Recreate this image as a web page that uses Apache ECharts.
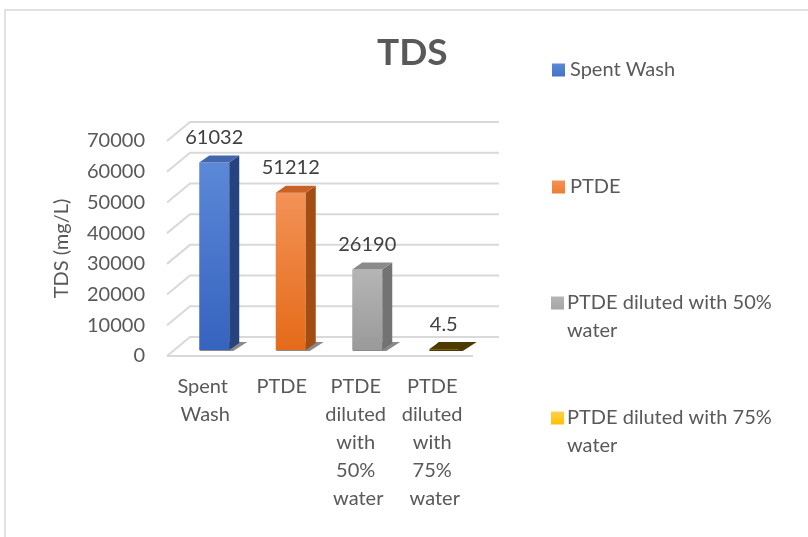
<!DOCTYPE html>
<html>
<head>
<meta charset="utf-8">
<style>
  html, body { margin: 0; padding: 0; background: #fff; }
  #chart { width: 808px; height: 537px; }
</style>
<script src="https://cdn.jsdelivr.net/npm/echarts@6/dist/echarts.min.js"></script>
</head>
<body>
<div id="chart"></div>
<script>
// data
var categories = ['Spent Wash', 'PTDE', 'PTDE diluted with 50% water', 'PTDE diluted with 75% water'];
var tdsValues = [61032, 51212, 26190, 4.5];
var yTicks = [0, 10000, 20000, 30000, 40000, 50000, 60000, 70000];

// colours per bar: front top, front bottom, side, top face, legend
var frontTop = ['#5c88d8', '#f39257', '#b5b5b5', '#ffd24d'];
var frontBottom = ['#3563be', '#e46b18', '#9a9a9a', '#f0b400'];
var sideCol = ['#24437f', '#a24d14', '#737373', '#3a2c00'];
var topCol = ['#4366ac', '#c96226', '#8a8a8a', '#4d3b00'];
var legendCol = ['#4472c4', '#ed7d31', '#a5a5a5', '#ffc000'];

// 3d look
var barW = 30, barDx = 9, barDy = -6, depX = 10, depY = -7;
var wallDx = 23, wallDy = -19;

var chart = echarts.init(document.getElementById('chart'));

function gridRender(params, api) {
    var cs = params.coordSys;
    var y = api.coord([0, api.value(1)])[1];
    var x = cs.x, w = cs.width;
    var lineStyle = {stroke: '#d9d9d9', lineWidth: 2, fill: null};
    var children = [{
        type: 'polyline',
        shape: {points: [[x, y], [x + wallDx, y + wallDy], [x + w + wallDx + 3, y + wallDy]]},
        style: lineStyle
    }];
    if (api.value(1) === 0) {
        children.push({
            type: 'line',
            shape: {x1: x, y1: y, x2: x + w, y2: y},
            style: lineStyle
        });
    }
    return {type: 'group', children: children};
}

function barRender(i) {
    return function (params, api) {
        var v = api.value(1);
        var p = api.coord([api.value(0), v]);
        var p0 = api.coord([api.value(0), 0]);
        var l = p[0] + barDx - barW / 2, r = l + barW;
        var t = p[1] + barDy, b = p0[1] + barDy;
        if (b - t < 0.5) t = b - 0.5;
        return {
            type: 'group',
            children: [
                {   // base shadow
                    type: 'polygon',
                    shape: {points: [[l, b + 1], [r + 4, b + 1], [r + depX + 8, b + depY - 1], [l + depX, b + depY - 1]]},
                    style: {fill: i === 3 ? '#4d3b00' : 'rgba(40,40,40,0.55)'}
                },
                {
                    type: 'rect',
                    shape: {x: l, y: t, width: barW, height: b - t},
                    style: {fill: new echarts.graphic.LinearGradient(0, 0, 0, 1, [
                        {offset: 0, color: frontTop[i]}, {offset: 1, color: frontBottom[i]}])}
                },
                {
                    type: 'polygon',
                    shape: {points: [[r, t], [r + depX, t + depY], [r + depX, b + depY], [r, b]]},
                    style: {fill: sideCol[i]}
                },
                {
                    type: 'polygon',
                    shape: {points: [[l, t], [l + depX, t + depY], [r + depX, t + depY], [r, t]]},
                    style: {fill: topCol[i]}
                },
                {
                    type: 'text',
                    style: {
                        text: String(v), x: l + barW / 2, y: t - 25,
                        align: 'center', verticalAlign: 'middle',
                        fill: '#404040', font: '20px Lato'
                    }
                }
            ]
        };
    };
}

var series = [{
    type: 'custom',
    name: 'grid',
    renderItem: gridRender,
    data: yTicks.map(function (v) { return [0, v]; }),
    silent: true,
    z: 1
}];
categories.forEach(function (name, i) {
    series.push({
        type: 'custom',
        name: name,
        renderItem: barRender(i),
        itemStyle: {color: new echarts.graphic.LinearGradient(0, 0, 0, 1, [
            {offset: 0, color: frontTop[i]}, {offset: 1, color: legendCol[i]}])},
        data: [[i, tdsValues[i]]],
        z: 3
    });
});

var iconCenter = [69, 186, 302, 417];
var legendText = {color: '#595959', fontSize: 20, fontFamily: 'Lato', lineHeight: 28};
var legends = categories.map(function (name, i) {
    if (i < 2) {
        return {
            data: [name],
            left: 547,
            top: iconCenter[i] - 18,
            icon: 'rect',
            itemWidth: 13,
            itemHeight: 13,
            selectedMode: false,
            textStyle: legendText
        };
    }
    // two-line entries: square kept on the first line
    var cut = name.lastIndexOf(' ');
    return {
        data: [name],
        left: 541,
        top: iconCenter[i] - 18,
        icon: 'none',
        itemWidth: 0,
        itemHeight: 13,
        selectedMode: false,
        formatter: function (n) {
            return '{sq|}{g|}{t|' + n.slice(0, cut) + '}\n{ind|}{t|' + n.slice(cut + 1) + '}';
        },
        textStyle: {
            color: '#595959', fontSize: 20, fontFamily: 'Lato', lineHeight: 28,
            rich: {
                sq: {width: 13, height: 13, backgroundColor: new echarts.graphic.LinearGradient(0, 0, 0, 1, [
                    {offset: 0, color: frontTop[i]}, {offset: 1, color: legendCol[i]}])},
                g: {width: 3},
                ind: {width: 16},
                t: legendText
            }
        }
    };
});

var option = {
    backgroundColor: '#fff',
    animation: false,
    title: {
        text: 'TDS',
        left: 372,
        top: 30,
        textStyle: {color: '#595959', fontSize: 37, fontWeight: 'bold', fontFamily: 'Lato'}
    },
    legend: legends,
    graphic: [{
        type: 'rect',
        shape: {x: 5, y: 10, width: 900, height: 700},
        style: {fill: null, stroke: '#d9d9d9', lineWidth: 1.5},
        silent: true
    }],
    grid: {left: 167, top: 141, width: 306, height: 215},
    xAxis: {
        type: 'category',
        data: categories,
        axisLine: {show: false},
        axisTick: {show: false},
        axisLabel: {
            color: '#595959', fontSize: 20, fontFamily: 'Lato', lineHeight: 28,
            margin: 17, width: 74, overflow: 'break', interval: 0
        }
    },
    yAxis: {
        type: 'value',
        min: 0,
        max: 70000,
        interval: 10000,
        name: 'TDS (mg/L)',
        nameLocation: 'middle',
        nameRotate: 90,
        nameGap: 95,
        nameTextStyle: {color: '#595959', fontSize: 20, fontFamily: 'Lato'},
        axisLine: {show: false},
        axisTick: {show: false},
        splitLine: {show: false},
        axisLabel: {
            color: '#595959', fontSize: 20, fontFamily: 'Lato', margin: 22,
            formatter: function (v) { return String(v); }
        }
    },
    series: series
};
chart.setOption(option);
window.onresize = chart.resize;
</script>
</body>
</html>
